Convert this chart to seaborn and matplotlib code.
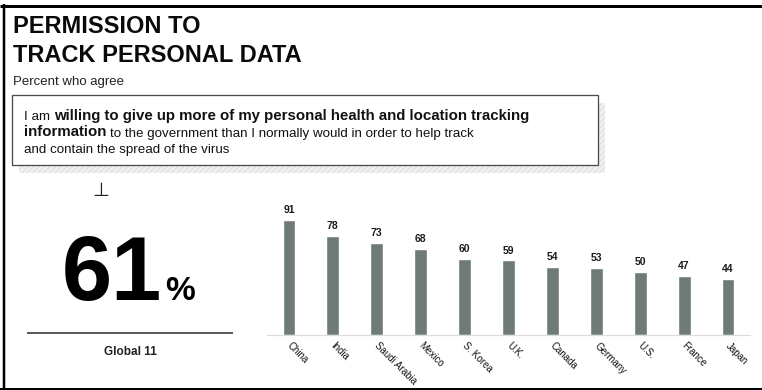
import matplotlib
matplotlib.use("Agg")
import matplotlib.pyplot as plt
from matplotlib.patches import Rectangle
from matplotlib.transforms import ScaledTranslation
import seaborn as sns
import pandas as pd

# ---- data -------------------------------------------------------------
countries = ["China", "India", "Saudi Arabia", "Mexico", "S. Korea", "U.K.",
             "Canada", "Germany", "U.S.", "France", "Japan"]
agree_pct = [91, 78, 73, 68, 60, 59, 54, 53, 50, 47, 44]
global_pct = 61
global_label = "Global 11"
title_lines = ["PERMISSION TO", "TRACK PERSONAL DATA"]
subtitle = "Percent who agree"
statement_lines = [
    [("I am", False), ("willing to give up more of my personal health and location tracking", True)],
    [("information", True), ("to the government than I normally would in order to help track", False)],
    [("and contain the spread of the virus", False)],
]

# ---- figure setup -----------------------------------------------------
W, H = 762, 390
PT = 0.72  # points per pixel at 100 dpi
sns.set_theme(style="white")
plt.rcParams["font.family"] = ["Liberation Sans", "DejaVu Sans"]

fig = plt.figure(figsize=(W / 100, H / 100), dpi=100)
fig.patch.set_facecolor("white")

# full-figure canvas in pixel units (y grows downward)
canvas = fig.add_axes([0, 0, 1, 1])
canvas.set_xlim(0, W)
canvas.set_ylim(H, 0)
canvas.axis("off")

# outer frame: heavy rule on top, thinner on left and bottom
canvas.plot([0, W], [5.5, 5.5], color="black", lw=3 * PT, solid_capstyle="butt")
canvas.plot([0, W], [388.5, 388.5], color="black", lw=2 * PT, solid_capstyle="butt")
canvas.plot([4, 4], [4, H], color="black", lw=2.5 * PT, solid_capstyle="butt")

# title and subtitle
canvas.text(13, 33, title_lines[0], fontsize=17, fontweight="bold", color="#0a0a0a",
            va="baseline", ha="left")
canvas.text(13, 62, title_lines[1], fontsize=17, fontweight="bold", color="#0a0a0a",
            va="baseline", ha="left")
canvas.text(13, 85, subtitle, fontsize=9.5, color="#222", va="baseline", ha="left")

# statement box with hatched drop shadow
canvas.add_patch(Rectangle((19, 103), 586, 70, facecolor="#f1f1f1", edgecolor="#e2e2e2",
                           hatch="//////", lw=0, zorder=1))
canvas.add_patch(Rectangle((12, 95), 586, 70, facecolor="white", edgecolor="#4a4a4a",
                           lw=1.3 * PT, zorder=2))

renderer = fig.canvas.get_renderer()


def draw_runs(x, y, parts, reg_size=9.6, bold_size=10.8):
    """Lay out regular/bold runs one after another on a single line."""
    for i, (txt, bold) in enumerate(parts):
        size = bold_size if bold else reg_size
        if i > 0:
            x += size * 0.28 / PT
        t = canvas.text(x, y, txt, fontsize=size, fontweight="bold" if bold else "normal",
                        color="#111", va="baseline", ha="left", zorder=3)
        x += t.get_window_extent(renderer).width


for k, parts in enumerate(statement_lines):
    draw_runs(24, 120 + 16.5 * k, parts)

# global summary on the left
canvas.text(101, 190, "\u22a5", fontsize=14, color="#222", ha="center", va="center",
            family=["DejaVu Sans"])
big = canvas.text(62, 300, f"{global_pct}", fontsize=65, fontweight="bold", color="black",
                  va="baseline", ha="left")
bw = big.get_window_extent(renderer).width
canvas.text(62 + bw + 3, 300, "%", fontsize=24, fontweight="bold", color="black",
            va="baseline", ha="left")
canvas.plot([27, 233], [333, 333], color="#333", lw=1.6 * PT, solid_capstyle="butt")
canvas.text(130, 355, global_label, fontsize=8.5, fontweight="bold", color="#222",
            ha="center", va="baseline")

# ---- bar chart ---------------------------------------------------------
base_y = 335
px_per_unit = 1.265
ax = fig.add_axes([267 / W, (H - base_y) / H, 483 / W, 100 * px_per_unit / H])
ax.patch.set_alpha(0)

df = pd.DataFrame({"country": countries, "pct": agree_pct})
sns.barplot(data=df, x="country", y="pct", color="#6e7b78", saturation=1,
            width=0.29, ax=ax)
ax.set_xlim(-0.5, len(countries) - 0.5)
ax.set_ylim(0, 100)
for cont in ax.containers:
    ax.bar_label(cont, padding=3.5, fontsize=7.5, fontweight="bold", color="#1a1a1a")

ax.set_xlabel("")
ax.set_ylabel("")
ax.set_yticks([])
sns.despine(ax=ax, left=True)
ax.spines["bottom"].set_color("#dcdcdc")
ax.spines["bottom"].set_linewidth(1.2 * PT)
ax.tick_params(axis="x", length=0, pad=4, colors="#111")
plt.setp(ax.get_xticklabels(), rotation=-45, ha="left", va="top",
         rotation_mode="anchor", fontsize=7)
# nudge the slanted country names so they start at the bar centre
shift = ScaledTranslation(3 / 100, 0, fig.dpi_scale_trans)
for lbl in ax.get_xticklabels():
    lbl.set_transform(lbl.get_transform() + shift)

fig.savefig("out.png", dpi=100, facecolor="white")
